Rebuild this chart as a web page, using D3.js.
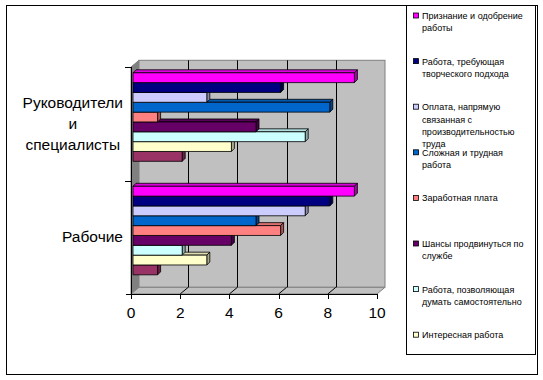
<!DOCTYPE html>
<html><head><meta charset="utf-8">
<script src="https://cdn.jsdelivr.net/npm/d3@7"></script>
<style>body{margin:0;background:#fff}svg{display:block}</style>
</head><body>
<script>
const categories = ["Руководители и специалисты", "Рабочие"];
const categoryLines = [["Руководители", "и", "специалисты"], ["Рабочие"]];
const seriesNames = [
  "Признание и одобрение работы",
  "Работа, требующая творческого подхода",
  "Оплата, напрямую связанная с производительностью труда",
  "Сложная и трудная работа",
  "Заработная плата",
  "Шансы продвинуться по службе",
  "Работа, позволяющая думать самостоятельно",
  "Интересная работа",
  ""
];
const legendLines = [
  ["Признание и одобрение", "работы"],
  ["Работа, требующая", "творческого подхода"],
  ["Оплата, напрямую", "связанная с", "производительностью", "труда"],
  ["Сложная и трудная", "работа"],
  ["Заработная плата"],
  ["Шансы продвинуться по", "службе"],
  ["Работа, позволяющая", "думать самостоятельно"],
  ["Интересная работа"]
];
const valuesManagers = [9, 6, 3, 8, 1, 5, 7, 4, 2];
const valuesWorkers  = [9, 8, 7, 5, 6, 4, 2, 3, 1];
const xTicks = [0, 2, 4, 6, 8, 10];
const seriesColors = ["#FF00FF", "#000080", "#CCCCFF", "#0066CC", "#FF8080", "#660066", "#CCFFFF", "#FFFFCC", "#993366"];

const W = 543, H = 380;
const svg = d3.select("body").append("svg").attr("width", W).attr("height", H);

// outer border
svg.append("rect").attr("x", 6.5).attr("y", 5.5).attr("width", 531).attr("height", 369)
  .attr("fill", "#fff").attr("stroke", "#000").attr("stroke-width", 1);

// geometry
const front = {left: 131, right: 377, top: 67, bottom: 294};
const depth = {dx: 8, dy: -6.7};
const x = d3.scaleLinear().domain([0, 10]).range([front.left, front.right]);
const xb = v => x(v) + depth.dx;
const backTop = front.top + depth.dy, backBottom = front.bottom + depth.dy;

// side wall
svg.append("polygon")
  .attr("points", [[front.left, front.top], [xb(0), backTop], [xb(0), backBottom], [front.left, front.bottom]].join(" "))
  .attr("fill", "#808080").attr("stroke", "#808080");
// back wall
svg.append("rect").attr("x", xb(0)).attr("y", backTop).attr("width", xb(10) - xb(0)).attr("height", backBottom - backTop)
  .attr("fill", "#C0C0C0").attr("stroke", "#808080").attr("stroke-width", 1);
// floor
svg.append("polygon")
  .attr("points", [[x(0), front.bottom], [x(10), front.bottom], [xb(10), backBottom], [xb(0), backBottom]].join(" "))
  .attr("fill", "#C0C0C0").attr("stroke", "#808080").attr("stroke-width", 1);

// gridlines
xTicks.filter(t => t > 0 && t < 10).forEach(t => {
  svg.append("line").attr("x1", Math.round(xb(t)) + 0.5).attr("x2", Math.round(xb(t)) + 0.5)
    .attr("y1", backTop).attr("y2", backBottom).attr("stroke", "#000");
  svg.append("line").attr("x1", xb(t)).attr("y1", backBottom).attr("x2", x(t)).attr("y2", front.bottom)
    .attr("stroke", "#000");
});

// axes lines
svg.append("line").attr("x1", front.left + 0.5).attr("x2", front.left + 0.5).attr("y1", front.top).attr("y2", front.bottom)
  .attr("stroke", "#000");
svg.append("line").attr("x1", front.left - 5).attr("x2", front.right).attr("y1", front.bottom + 0.5).attr("y2", front.bottom + 0.5)
  .attr("stroke", "#000");
// x ticks
xTicks.forEach(t => {
  svg.append("line").attr("x1", Math.round(x(t)) + 0.5).attr("x2", Math.round(x(t)) + 0.5)
    .attr("y1", front.bottom).attr("y2", front.bottom + 5).attr("stroke", "#000");
  svg.append("text").attr("x", x(t)).attr("y", 318).attr("text-anchor", "middle")
    .attr("font-family", "Liberation Sans, Arial, sans-serif").attr("font-size", 15.5).attr("fill", "#000")
    .text(t);
});
// y ticks
const yFront = d3.scaleBand().domain(categories).range([front.top, front.bottom]);
[front.top, (front.top + front.bottom) / 2].forEach(yy => {
  svg.append("line").attr("x1", front.left - 6).attr("x2", front.left).attr("y1", Math.round(yy) + 0.5).attr("y2", Math.round(yy) + 0.5)
    .attr("stroke", "#000");
});

// category labels
categories.forEach((c, i) => {
  const g = svg.append("g");
  const lines = categoryLines[i];
  const lh = 21;
  const cy = yFront(c) + yFront.bandwidth() / 2;
  const y0 = cy - (lines.length - 1) * lh / 2 + 5;
  const texts = lines.map((l, j) => g.append("text").attr("y", y0 + j * lh)
    .attr("font-family", "Liberation Sans, Arial, sans-serif").attr("font-size", 15.5).attr("fill", "#000")
    .attr("text-anchor", "middle").text(l));
  const maxW = d3.max(texts, t => t.node().getComputedTextLength());
  const cx = 123 - maxW / 2;
  texts.forEach(t => t.attr("x", cx));
});

// bars
const yBand = d3.scaleBand().domain(categories).range([backTop, backBottom]).paddingInner(0.22).paddingOuter(0.11);
const sIdx = d3.range(seriesNames.length);
const ySer = d3.scaleBand().domain(sIdx).range([0, yBand.bandwidth()]);
const bd = 3, shiftX = 2;
const valuesByCat = [valuesManagers, valuesWorkers];
categories.forEach((c, ci) => {
  const vals = valuesByCat[ci];
  sIdx.slice().reverse().forEach(si => {
    const x0 = x(0) + shiftX, x1 = x(vals[si]) + shiftX;
    const y0 = yBand(c) + ySer(si), y1 = y0 + ySer.bandwidth();
    const col = d3.color(seriesColors[si]);
    const g = svg.append("g").attr("stroke", "#000").attr("stroke-width", 0.8).attr("stroke-linejoin", "round");
    g.append("polygon").attr("points", [[x0, y0], [x0 + bd, y0 - bd], [x1 + bd, y0 - bd], [x1, y0]].join(" "))
      .attr("fill", col.darker(0.4));
    g.append("polygon").attr("points", [[x1, y0], [x1 + bd, y0 - bd], [x1 + bd, y1 - bd], [x1, y1]].join(" "))
      .attr("fill", col.darker(1.1));
    g.append("rect").attr("x", x0).attr("y", y0).attr("width", x1 - x0).attr("height", y1 - y0)
      .attr("fill", col);
  });
});

// legend
const lg = svg.append("g");
lg.append("rect").attr("x", 406.5).attr("y", 5.5).attr("width", 129).attr("height", 349)
  .attr("fill", "#fff").attr("stroke", "#000");
const legY0 = 16, legStep = 45.6, legLH = 12.3;
legendLines.forEach((lines, i) => {
  const yy = legY0 + i * legStep;
  lg.append("rect").attr("x", 413.5).attr("y", yy - 3).attr("width", 5).attr("height", 5)
    .attr("fill", seriesColors[i]).attr("stroke", "#000").attr("stroke-width", 0.8);
  lines.forEach((l, j) => {
    lg.append("text").attr("x", 422).attr("y", yy + 3 + j * legLH)
      .attr("font-family", "Liberation Sans, Arial, sans-serif").attr("font-size", 9).attr("fill", "#000")
      .text(l);
  });
});
</script>
</body></html>
